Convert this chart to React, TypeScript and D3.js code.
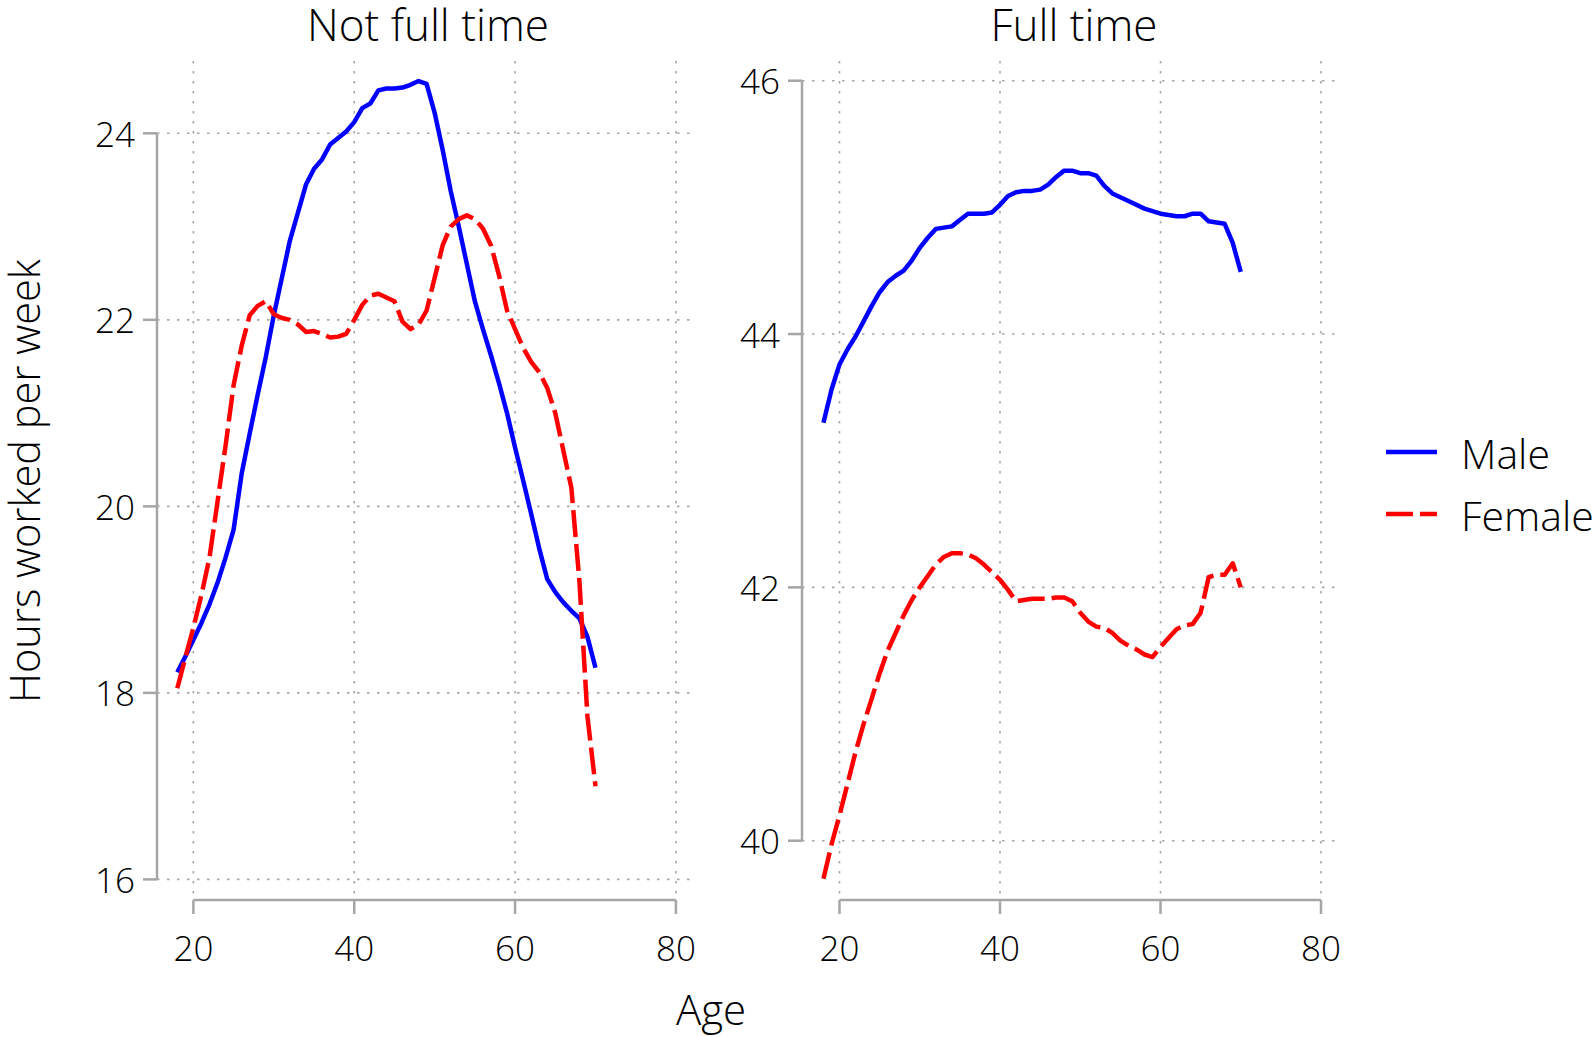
import React from "react";
import * as d3 from "d3";

// ---------- data ----------
const ages = [18,19,20,21,22,23,24,25,26,27,28,29,30,31,32,33,34,35,36,37,38,39,40,41,42,43,44,45,46,47,48,49,50,51,52,53,54,55,56,57,58,59,60,61,62,63,64,65,66,67,68,69,70];

const notFullMale = [18.22,18.39,18.57,18.75,18.95,19.18,19.45,19.75,20.35,20.78,21.2,21.6,22.05,22.45,22.85,23.15,23.45,23.62,23.72,23.88,23.95,24.02,24.12,24.27,24.32,24.46,24.48,24.48,24.49,24.52,24.56,24.53,24.22,23.82,23.38,23.0,22.6,22.2,21.9,21.62,21.32,21.0,20.63,20.28,19.92,19.55,19.22,19.08,18.97,18.88,18.8,18.6,18.27];
const notFullFemale = [18.05,18.38,18.7,19.05,19.45,20.05,20.65,21.3,21.72,22.05,22.15,22.2,22.06,22.02,22.0,21.95,21.87,21.88,21.85,21.81,21.82,21.85,22.0,22.16,22.26,22.28,22.24,22.2,21.98,21.9,21.95,22.1,22.45,22.8,23.0,23.08,23.12,23.08,22.98,22.8,22.48,22.1,21.9,21.7,21.55,21.44,21.27,21.0,20.6,20.2,19.2,17.75,17.0];
const fullMale = [43.3,43.56,43.76,43.88,43.98,44.1,44.22,44.33,44.41,44.46,44.5,44.58,44.68,44.76,44.83,44.84,44.85,44.9,44.95,44.95,44.95,44.96,45.02,45.09,45.12,45.13,45.13,45.14,45.18,45.24,45.29,45.29,45.27,45.27,45.25,45.17,45.11,45.08,45.05,45.02,44.99,44.97,44.95,44.94,44.93,44.93,44.95,44.95,44.89,44.88,44.87,44.72,44.49];
const fullFemale = [39.7,39.97,40.2,40.45,40.7,40.92,41.12,41.32,41.5,41.64,41.78,41.9,42.0,42.09,42.18,42.24,42.27,42.27,42.26,42.23,42.18,42.12,42.06,41.98,41.89,41.9,41.91,41.91,41.91,41.92,41.92,41.89,41.8,41.73,41.69,41.68,41.64,41.58,41.54,41.51,41.47,41.45,41.53,41.6,41.67,41.7,41.71,41.8,42.08,42.1,42.1,42.19,42.0];

const xTicks = [20, 40, 60, 80];
const yTicksNotFull = [16, 18, 20, 22, 24];
const yTicksFull = [40, 42, 44, 46];
const panelTitles = ["Not full time", "Full time"];
const seriesNames = ["Male", "Female"];

// ---------- style ----------
const FONT = "'Open Sans', 'Noto Sans', sans-serif";
const GRID = "#a6a6a6";
const AXIS = "#a6a6a6";
const BLUE = "#0000ff";
const RED = "#ff0000";
const DASH = "27 7";
const LW = 4.5;

type PanelProps = {
  title: string;
  male: number[];
  female: number[];
  yTicks: number[];
  xRange: [number, number];
  yRange: [number, number];
  box: { left: number; right: number; top: number; bottom: number };
  titleX: number;
};

function Panel({ title, male, female, yTicks, xRange, yRange, box, titleX }: PanelProps) {
  const x = d3.scaleLinear().domain([20, 80]).range(xRange);
  const yDom = d3.extent(yTicks) as [number, number];
  const y = d3.scaleLinear().domain(yDom).range(yRange);
  const line = d3
    .line<number>()
    .x((_, i) => x(ages[i]))
    .y((v) => y(v))
    .curve(d3.curveLinear);
  const axisY = box.bottom;
  return (
    <g>
      {/* grid */}
      {xTicks.map((t) => (
        <line key={"gx" + t} x1={x(t)} x2={x(t)} y1={box.top} y2={axisY} stroke={GRID} strokeWidth={1.6} strokeDasharray="2.5 7.5" />
      ))}
      {yTicks.map((t) => (
        <line key={"gy" + t} x1={box.left} x2={box.right} y1={y(t)} y2={y(t)} stroke={GRID} strokeWidth={1.6} strokeDasharray="2.5 7.5" />
      ))}
      {/* y axis */}
      <line x1={box.left} x2={box.left} y1={y(yDom[1])} y2={y(yDom[0])} stroke={AXIS} strokeWidth={2.5} />
      {yTicks.map((t) => (
        <g key={"yt" + t}>
          <line x1={box.left - 14} x2={box.left} y1={y(t)} y2={y(t)} stroke={AXIS} strokeWidth={2.5} />
          <text x={box.left - 22} y={y(t)} textAnchor="end" dominantBaseline="central" fontSize={35} fontWeight={300} fontFamily={FONT} fill="#000">
            {t}
          </text>
        </g>
      ))}
      {/* x axis */}
      <line x1={x(20)} x2={x(80)} y1={axisY} y2={axisY} stroke={AXIS} strokeWidth={2.5} />
      {xTicks.map((t) => (
        <g key={"xt" + t}>
          <line x1={x(t)} x2={x(t)} y1={axisY} y2={axisY + 14} stroke={AXIS} strokeWidth={2.5} />
          <text x={x(t)} y={947} textAnchor="middle" dominantBaseline="central" fontSize={35} fontWeight={300} fontFamily={FONT} fill="#000">
            {t}
          </text>
        </g>
      ))}
      {/* series */}
      <path d={line(male) || ""} fill="none" stroke={BLUE} strokeWidth={LW} strokeLinejoin="round" />
      <path d={line(female) || ""} fill="none" stroke={RED} strokeWidth={LW} strokeDasharray={DASH} strokeLinejoin="round" />
      {/* title */}
      <text x={titleX} y={41} textAnchor="middle" fontSize={44} fontWeight={300} fontFamily={FONT} fill="#000">
        {title}
      </text>
    </g>
  );
}

export default function App() {
  return (
    <svg width={1596} height={1037} style={{ position: "absolute", left: 0, top: 0, background: "#fff" }}>
      <rect width={1596} height={1037} fill="#fff" />
      <Panel
        title={panelTitles[0]}
        male={notFullMale}
        female={notFullFemale}
        yTicks={yTicksNotFull}
        xRange={[193.4, 675.9]}
        yRange={[879.4, 133.3]}
        box={{ left: 157, right: 692, top: 61, bottom: 900 }}
        titleX={428}
      />
      <Panel
        title={panelTitles[1]}
        male={fullMale}
        female={fullFemale}
        yTicks={yTicksFull}
        xRange={[839.5, 1321]}
        yRange={[840.7, 80.7]}
        box={{ left: 802, right: 1335, top: 61, bottom: 900 }}
        titleX={1074}
      />
      {/* axis labels */}
      <text x={711} y={1025} textAnchor="middle" fontSize={42} fontWeight={300} fontFamily={FONT} fill="#000">
        Age
      </text>
      <text transform="translate(40,481) rotate(-90)" textAnchor="middle" fontSize={41.5} fontWeight={300} fontFamily={FONT} fill="#000">
        Hours worked per week
      </text>
      {/* legend */}
      <line x1={1386} x2={1437} y1={452} y2={452} stroke={BLUE} strokeWidth={LW} />
      <text x={1461} y={453} dominantBaseline="central" fontSize={41} fontWeight={300} fontFamily={FONT} fill="#000">
        {seriesNames[0]}
      </text>
      <line x1={1386} x2={1437} y1={514} y2={514} stroke={RED} strokeWidth={LW} strokeDasharray={DASH} />
      <text x={1461} y={515} dominantBaseline="central" fontSize={41} fontWeight={300} fontFamily={FONT} fill="#000">
        {seriesNames[1]}
      </text>
    </svg>
  );
}
